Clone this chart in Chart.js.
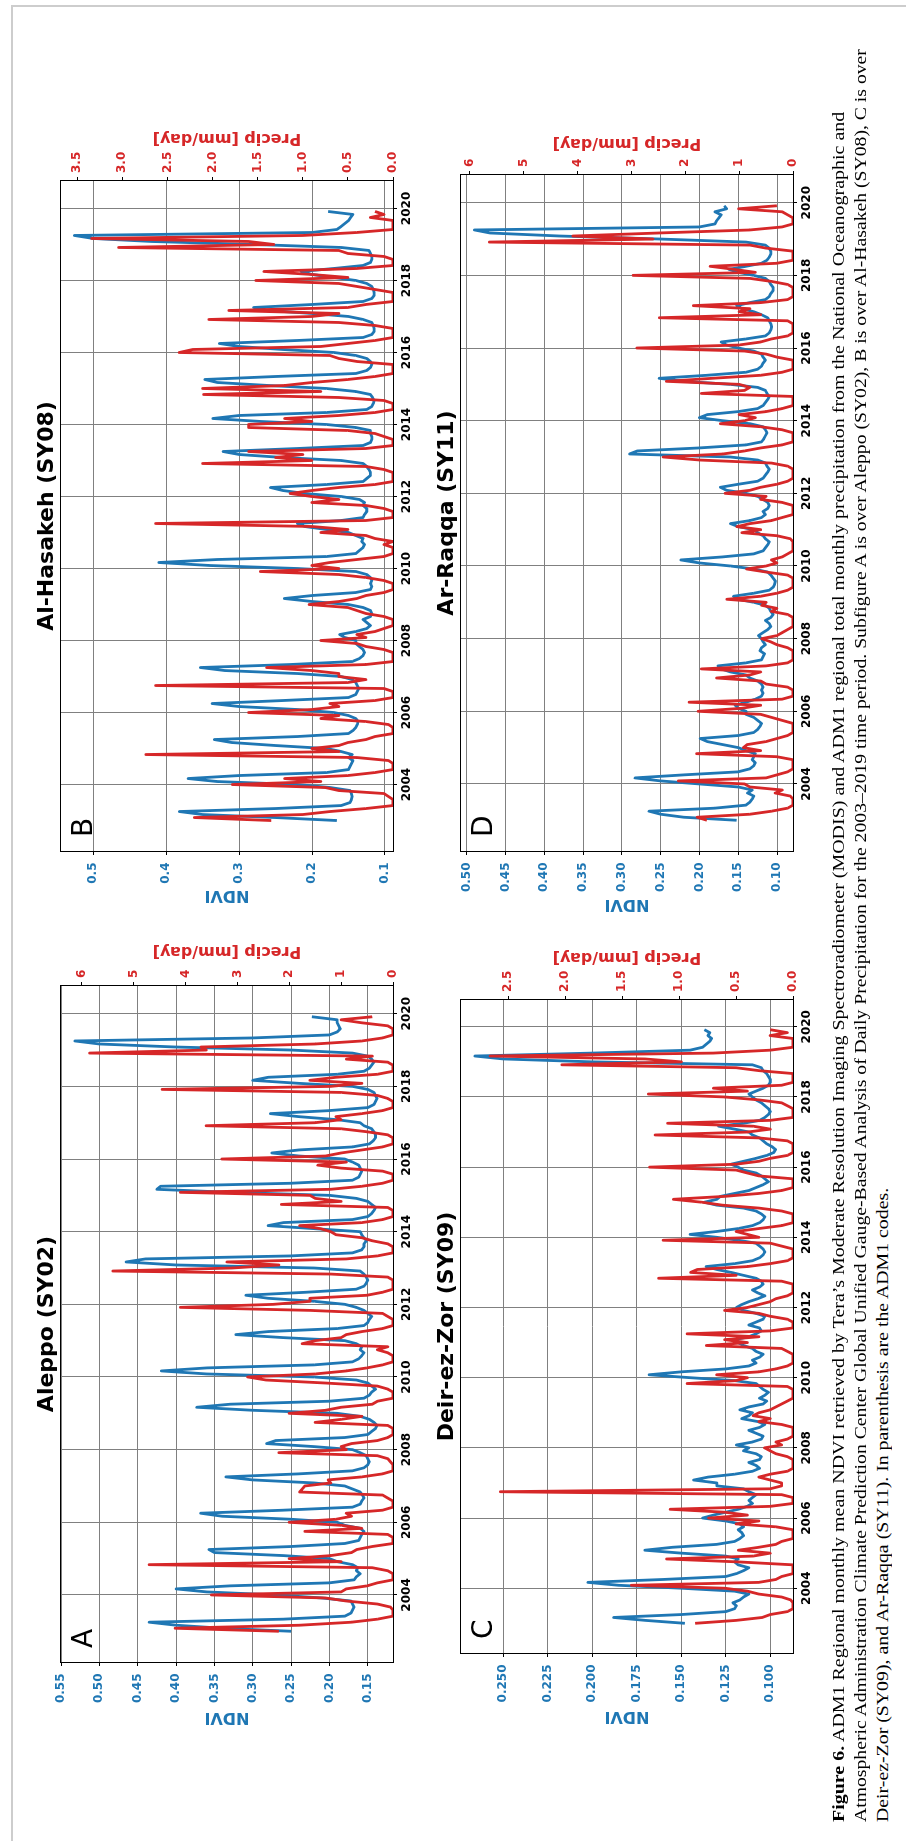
<!DOCTYPE html>
<html><head><meta charset="utf-8">
<script src="https://cdn.jsdelivr.net/npm/chart.js@4.4.1/dist/chart.umd.min.js"></script>
<style>
html,body{margin:0;padding:0;background:#fff;width:906px;height:1841px;overflow:hidden}
#page{position:absolute;left:0;top:0;width:1841px;height:906px;transform-origin:0 0;transform:translate(0,1841px) rotate(-90deg);}
#page canvas{position:absolute}
.cap{position:absolute;left:19px;font-family:"Liberation Serif","Times New Roman",serif;font-size:16.6px;line-height:20px;white-space:nowrap;transform-origin:0 0;color:#000}
.bl{position:absolute;background:#cdcdcd}
</style></head>
<body>
<div class="bl" style="left:12px;top:5px;width:894px;height:2px"></div>
<div class="bl" style="left:11px;top:5px;width:2px;height:1836px"></div>
<div id="page">
<canvas id="cA"></canvas><canvas id="cB"></canvas><canvas id="cC"></canvas><canvas id="cD"></canvas>
<div class="cap" id="cap1" style="top:828.7px"><b>Figure 6.</b> ADM1 Regional monthly mean NDVI retrieved by Tera’s Moderate Resolution Imaging Spectroradiometer (MODIS) and ADM1 regional total monthly precipitation from the National Oceanographic and</div>
<div class="cap" id="cap2" style="top:851.1px">Atmospheric Administration Climate Prediction Center Global Unified Gauge-Based Analysis of Daily Precipitation for the 2003–2019 time period. Subfigure A is over Aleppo (SY02), B is over Al-Hasakeh (SY08), C is over</div>
<div class="cap" id="cap3" style="top:873.4px">Deir-ez-Zor (SY09), and Ar-Raqqa (SY11). In parenthesis are the ADM1 codes.</div>
</div>
<script>
// ---------------- DATA ----------------
const years = [2003,2004,2005,2006,2007,2008,2009,2010,2011,2012,2013,2014,2015,2016,2017,2018,2019];
const yearTicks = [2004,2006,2008,2010,2012,2014,2016,2018,2020];

// Aleppo (SY02) — monthly, Jan..Dec per row
const aleppoNdvi = [
0.250,0.340,0.400,0.435,0.260,0.180,0.172,0.170,0.168,0.170,0.172,0.210,
0.270,0.360,0.400,0.330,0.200,0.168,0.165,0.160,0.165,0.163,0.170,0.190,
0.200,0.260,0.350,0.357,0.250,0.180,0.162,0.160,0.158,0.155,0.160,0.180,
0.190,0.250,0.340,0.368,0.260,0.170,0.160,0.158,0.155,0.157,0.160,0.170,
0.180,0.220,0.300,0.335,0.240,0.170,0.155,0.150,0.148,0.150,0.152,0.160,
0.170,0.220,0.282,0.270,0.180,0.150,0.145,0.140,0.138,0.142,0.148,0.160,
0.190,0.300,0.373,0.330,0.200,0.155,0.148,0.145,0.140,0.145,0.150,0.165,
0.220,0.360,0.419,0.360,0.220,0.170,0.162,0.158,0.155,0.160,0.158,0.165,
0.180,0.260,0.322,0.280,0.190,0.155,0.150,0.148,0.145,0.150,0.155,0.165,
0.180,0.220,0.280,0.309,0.230,0.165,0.155,0.152,0.150,0.152,0.155,0.160,
0.220,0.400,0.465,0.440,0.250,0.170,0.158,0.155,0.155,0.152,0.155,0.158,
0.160,0.220,0.280,0.260,0.170,0.150,0.145,0.142,0.140,0.145,0.150,0.165,
0.200,0.330,0.425,0.420,0.250,0.170,0.162,0.160,0.158,0.160,0.162,0.170,
0.180,0.240,0.275,0.240,0.170,0.148,0.143,0.140,0.140,0.142,0.145,0.155,
0.160,0.190,0.240,0.277,0.200,0.150,0.142,0.140,0.138,0.140,0.142,0.150,
0.170,0.240,0.300,0.280,0.190,0.155,0.148,0.145,0.142,0.145,0.150,0.170,
0.250,0.400,0.500,0.532,0.300,0.200,0.190,0.186,0.188,0.190,0.190,0.223];
const aleppoPrecip = [
2.2,4.2,1.8,0.8,0.3,0.0,0.0,0.0,0.05,0.3,0.9,1.3,
3.5,1.0,0.9,0.5,0.3,0.0,0.0,0.0,0.1,0.4,4.7,1.0,
2.0,1.2,0.8,0.7,0.4,0.0,0.0,0.0,0.1,1.7,0.6,1.0,
2.0,1.1,0.8,0.9,0.2,0.0,0.0,0.0,0.1,0.2,1.8,1.75,
1.7,1.2,1.25,0.6,0.2,0.0,0.0,0.0,0.05,0.1,0.3,2.2,
0.9,1.0,0.8,0.3,0.1,0.0,0.0,0.0,0.1,1.5,1.0,0.6,
2.0,1.3,1.0,0.4,0.3,0.0,0.0,0.0,0.1,0.3,1.3,2.45,
2.8,1.5,0.9,0.5,0.2,0.0,0.0,0.0,0.1,0.3,0.1,1.75,
1.5,1.0,0.9,0.6,0.2,0.0,0.0,0.0,0.1,0.2,1.6,4.1,
2.3,1.6,1.6,0.5,0.2,0.0,0.0,0.0,0.0,0.1,1.2,5.4,
3.1,2.2,3.2,0.9,0.3,0.0,0.0,0.0,0.1,0.4,0.6,1.1,
1.2,1.4,1.8,0.6,0.2,0.0,0.0,0.0,0.1,2.15,1.0,1.5,
1.6,4.1,1.2,0.6,0.2,0.0,0.0,0.0,0.2,1.0,1.45,0.9,
3.3,1.3,1.0,0.6,0.2,0.0,0.0,0.0,0.1,0.5,1.0,3.6,
1.5,1.0,1.1,0.6,0.2,0.0,0.0,0.0,0.1,0.3,1.0,4.45,
1.2,0.6,1.6,1.1,0.3,0.0,0.0,0.0,0.1,0.9,0.4,5.85,
3.6,3.7,1.5,0.6,0.2,0.0,0.0,0.0,0.1,0.6,1.0,0.4];
const aleppoNdviTicks = [0.15,0.20,0.25,0.30,0.35,0.40,0.45,0.50,0.55];
const aleppoPrecipTicks = [0,1,2,3,4,5,6];

// Al-Hasakeh (SY08)
const hasakehNdvi = [
0.166,0.250,0.350,0.382,0.250,0.160,0.148,0.146,0.145,0.146,0.148,0.175,
0.220,0.330,0.370,0.300,0.180,0.150,0.148,0.146,0.144,0.150,0.145,0.160,
0.180,0.250,0.310,0.334,0.220,0.150,0.144,0.140,0.138,0.137,0.140,0.150,
0.170,0.220,0.300,0.337,0.240,0.150,0.140,0.138,0.136,0.138,0.140,0.145,
0.160,0.220,0.320,0.353,0.230,0.145,0.135,0.130,0.128,0.130,0.135,0.140,
0.140,0.155,0.162,0.140,0.125,0.120,0.125,0.130,0.120,0.118,0.120,0.130,
0.150,0.200,0.238,0.200,0.140,0.120,0.118,0.120,0.118,0.120,0.125,0.140,
0.220,0.340,0.410,0.330,0.180,0.140,0.135,0.130,0.128,0.132,0.130,0.140,
0.150,0.180,0.210,0.220,0.160,0.130,0.128,0.125,0.125,0.130,0.128,0.135,
0.160,0.210,0.240,0.257,0.180,0.130,0.125,0.120,0.120,0.122,0.125,0.130,
0.160,0.240,0.300,0.322,0.220,0.130,0.120,0.118,0.118,0.120,0.120,0.140,
0.180,0.270,0.336,0.300,0.180,0.125,0.118,0.116,0.115,0.117,0.120,0.140,
0.180,0.260,0.330,0.347,0.250,0.140,0.125,0.120,0.118,0.120,0.125,0.140,
0.170,0.240,0.300,0.327,0.220,0.130,0.118,0.115,0.115,0.116,0.118,0.130,
0.150,0.200,0.260,0.280,0.200,0.130,0.118,0.115,0.115,0.116,0.118,0.125,
0.140,0.170,0.200,0.215,0.170,0.130,0.120,0.118,0.118,0.120,0.122,0.160,
0.280,0.420,0.500,0.526,0.200,0.166,0.160,0.155,0.150,0.147,0.144,0.178];
const hasakehPrecip = [
1.35,2.2,1.0,0.7,0.3,0.0,0.0,0.0,0.05,0.1,0.6,0.75,
1.78,0.8,1.2,0.5,0.2,0.0,0.0,0.0,0.05,0.4,2.74,0.6,
0.9,0.6,0.5,0.3,0.2,0.0,0.0,0.0,0.05,0.3,0.8,0.6,
1.6,0.9,0.6,0.7,0.2,0.0,0.0,0.0,0.1,2.63,0.5,0.3,
0.6,0.6,0.9,1.4,0.3,0.0,0.0,0.0,0.0,0.1,0.3,0.4,
0.8,0.3,0.4,0.2,0.1,0.0,0.0,0.0,0.1,0.3,0.4,0.5,
0.93,0.6,0.4,0.3,0.1,0.0,0.0,0.0,0.1,0.3,0.6,1.47,
0.6,0.9,0.7,0.4,0.1,0.0,0.0,0.0,0.1,0.0,0.2,0.3,
0.8,0.5,0.9,2.63,0.3,0.0,0.0,0.0,0.1,0.3,0.9,0.6,
0.9,1.14,0.9,0.6,0.2,0.0,0.0,0.0,0.0,0.1,0.3,2.11,
0.9,1.3,1.0,1.6,0.3,0.0,0.0,0.0,0.1,0.2,0.5,1.6,
1.6,0.9,1.2,0.6,0.2,0.0,0.0,0.0,0.1,0.6,2.1,0.8,
2.11,1.2,0.9,0.5,0.2,0.0,0.0,0.0,0.0,0.4,0.6,0.7,
2.37,2.22,0.8,0.5,0.2,0.0,0.0,0.0,0.0,0.2,0.6,2.04,
0.9,0.6,1.82,0.5,0.3,0.0,0.0,0.0,0.0,0.2,0.4,0.6,
1.52,0.5,0.9,1.43,0.4,0.0,0.0,0.0,0.1,0.5,0.6,3.04,
1.32,1.6,3.34,1.0,0.4,0.0,0.0,0.0,0.0,0.25,0.1,0.2];
const hasakehNdviTicks = [0.1,0.2,0.3,0.4,0.5];
const hasakehPrecipTicks = [0.0,0.5,1.0,1.5,2.0,2.5,3.0,3.5];

// Deir-ez-Zor (SY09)
const deirNdvi = [
0.148,0.170,0.188,0.150,0.125,0.120,0.119,0.121,0.117,0.115,0.112,0.120,
0.150,0.185,0.2025,0.160,0.125,0.119,0.115,0.112,0.118,0.120,0.118,0.125,
0.150,0.1705,0.155,0.130,0.120,0.117,0.115,0.116,0.118,0.115,0.117,0.125,
0.138,0.132,0.125,0.118,0.113,0.110,0.112,0.110,0.108,0.112,0.115,0.130,
0.130,0.143,0.135,0.120,0.110,0.106,0.108,0.112,0.106,0.105,0.108,0.115,
0.112,0.119,0.110,0.105,0.104,0.108,0.112,0.106,0.103,0.107,0.116,0.112,
0.110,0.117,0.112,0.104,0.102,0.106,0.103,0.101,0.104,0.106,0.108,0.120,
0.145,0.168,0.150,0.125,0.112,0.108,0.110,0.106,0.104,0.108,0.110,0.115,
0.118,0.120,0.112,0.108,0.105,0.106,0.112,0.108,0.104,0.103,0.108,0.115,
0.119,0.116,0.112,0.107,0.103,0.107,0.110,0.106,0.104,0.105,0.108,0.115,
0.122,0.130,0.136,0.120,0.110,0.106,0.104,0.103,0.104,0.106,0.108,0.118,
0.130,0.145,0.130,0.118,0.110,0.106,0.104,0.103,0.105,0.108,0.115,0.130,
0.137,0.130,0.128,0.120,0.112,0.108,0.104,0.101,0.103,0.105,0.108,0.115,
0.118,0.122,0.115,0.108,0.102,0.098,0.097,0.099,0.102,0.104,0.106,0.110,
0.112,0.120,0.129,0.115,0.106,0.103,0.101,0.100,0.101,0.103,0.105,0.108,
0.110,0.112,0.108,0.104,0.101,0.100,0.100,0.101,0.102,0.104,0.105,0.110,
0.200,0.250,0.266,0.200,0.145,0.138,0.136,0.134,0.133,0.135,0.134,0.137];
const deirPrecip = [
0.86,0.5,0.27,0.2,0.05,0.0,0.0,0.0,0.02,0.1,0.3,0.4,
0.6,1.42,0.3,0.15,0.1,0.0,0.0,0.0,0.0,0.48,1.11,0.35,
0.2,0.48,0.3,0.15,0.1,0.0,0.0,0.0,0.0,0.15,0.5,0.3,
0.74,0.4,0.6,1.08,0.2,0.0,0.0,0.0,0.1,2.57,0.2,0.1,
0.1,0.2,0.3,0.2,0.05,0.0,0.0,0.0,0.0,0.05,0.15,0.2,
0.25,0.1,0.15,0.05,0.0,0.0,0.0,0.0,0.1,0.3,0.2,0.35,
0.3,0.2,0.15,0.1,0.05,0.0,0.0,0.0,0.0,0.05,0.93,0.5,
0.4,0.67,0.3,0.15,0.05,0.0,0.0,0.0,0.0,0.05,0.1,0.76,
0.4,0.6,0.3,0.93,0.2,0.0,0.0,0.0,0.05,0.2,0.3,0.6,
0.4,0.3,0.2,0.15,0.05,0.0,0.0,0.0,0.0,0.1,1.18,0.5,
0.9,0.84,0.4,0.2,0.05,0.0,0.0,0.0,0.0,0.1,0.2,1.14,
0.3,0.4,0.5,0.3,0.1,0.0,0.0,0.0,0.0,0.1,0.3,0.62,
0.8,1.05,0.6,0.3,0.1,0.0,0.0,0.0,0.0,0.3,0.4,0.5,
1.26,0.5,0.3,0.2,0.05,0.0,0.0,0.0,0.0,0.05,0.3,1.21,
0.4,0.2,0.35,1.1,0.2,0.0,0.0,0.0,0.0,0.05,0.1,0.3,
0.6,1.27,0.4,0.7,0.1,0.0,0.0,0.0,0.0,0.3,0.5,2.03,
0.98,1.3,2.66,0.7,0.2,0.0,0.0,0.0,0.0,0.2,0.05,0.2];
const deirNdviTicks = [0.100,0.125,0.150,0.175,0.200,0.225,0.250];
const deirPrecipTicks = [0.0,0.5,1.0,1.5,2.0,2.5];

// Ar-Raqqa (SY11)
const raqqaNdvi = [
0.152,0.220,0.250,0.265,0.180,0.140,0.135,0.132,0.130,0.138,0.132,0.150,
0.200,0.250,0.283,0.220,0.150,0.135,0.130,0.128,0.132,0.130,0.128,0.140,
0.150,0.170,0.190,0.199,0.150,0.130,0.125,0.122,0.120,0.125,0.130,0.140,
0.140,0.150,0.154,0.140,0.128,0.120,0.118,0.120,0.118,0.120,0.125,0.135,
0.140,0.160,0.172,0.176,0.140,0.120,0.118,0.116,0.122,0.120,0.115,0.118,
0.120,0.124,0.118,0.112,0.108,0.110,0.115,0.108,0.105,0.108,0.110,0.115,
0.130,0.150,0.156,0.130,0.110,0.105,0.103,0.102,0.105,0.108,0.112,0.130,
0.160,0.200,0.224,0.170,0.130,0.118,0.115,0.112,0.110,0.115,0.118,0.125,
0.130,0.150,0.160,0.135,0.120,0.115,0.118,0.112,0.110,0.112,0.118,0.125,
0.140,0.165,0.173,0.150,0.125,0.118,0.115,0.112,0.110,0.113,0.115,0.125,
0.160,0.290,0.280,0.200,0.140,0.120,0.117,0.115,0.113,0.115,0.118,0.135,
0.170,0.200,0.190,0.150,0.125,0.118,0.115,0.112,0.110,0.113,0.115,0.125,
0.160,0.220,0.252,0.190,0.140,0.125,0.120,0.118,0.115,0.118,0.120,0.130,
0.150,0.165,0.172,0.140,0.115,0.110,0.108,0.107,0.108,0.110,0.112,0.120,
0.130,0.145,0.152,0.135,0.115,0.110,0.108,0.105,0.105,0.108,0.110,0.115,
0.130,0.150,0.162,0.140,0.120,0.113,0.110,0.108,0.108,0.110,0.115,0.140,
0.250,0.380,0.470,0.490,0.200,0.180,0.178,0.175,0.172,0.180,0.165,0.168];
const raqqaPrecip = [
1.6,1.78,0.8,0.4,0.1,0.0,0.0,0.0,0.05,0.33,0.2,0.8,
0.9,2.13,0.5,0.3,0.1,0.0,0.0,0.0,0.0,0.3,1.79,0.6,
0.92,0.85,0.5,0.3,0.1,0.0,0.0,0.0,0.0,0.2,0.4,0.6,
1.76,0.95,0.6,1.93,0.2,0.0,0.0,0.0,0.1,0.5,0.6,1.42,
0.8,0.6,1.7,0.5,0.1,0.0,0.0,0.0,0.0,0.1,0.3,0.42,
0.58,0.3,0.2,0.1,0.0,0.0,0.0,0.0,0.1,0.4,0.3,0.58,
0.5,1.23,0.6,0.3,0.1,0.0,0.0,0.0,0.0,0.1,0.5,0.86,
0.5,0.3,0.4,0.2,0.1,0.0,0.0,0.0,0.0,0.05,0.3,0.95,
0.6,1.04,0.8,0.4,0.2,0.0,0.0,0.0,0.0,0.2,0.6,0.5,
1.26,0.8,0.6,0.3,0.1,0.0,0.0,0.0,0.0,0.1,0.4,1.73,
2.41,1.3,0.9,0.6,0.2,0.0,0.0,0.0,0.0,0.2,0.6,1.35,
0.9,0.7,1.0,0.5,0.2,0.0,0.0,0.0,0.0,1.7,0.9,0.8,
1.0,2.35,1.5,0.6,0.2,0.0,0.0,0.0,0.0,0.3,0.5,0.9,
2.9,1.0,0.6,0.4,0.1,0.0,0.0,0.0,0.0,0.1,2.48,0.6,
1.0,0.8,1.85,0.6,0.1,0.0,0.0,0.0,0.0,0.1,0.4,0.8,
2.97,0.7,1.1,1.54,0.3,0.0,0.0,0.0,0.0,0.5,0.8,5.64,
2.6,4.09,2.5,0.8,0.2,0.0,0.0,0.0,0.1,0.2,1.01,0.3];
const raqqaNdviTicks = [0.10,0.15,0.20,0.25,0.30,0.35,0.40,0.45,0.50];
const raqqaPrecipTicks = [0,1,2,3,4,5,6];

// ---------------- DRAWING ----------------
const BLUE = '#1f77b4', RED = '#d62728', GRID = '#808080';
const TICK_FONT = {family:'DejaVu Sans', size:12, weight:'bold'};
const LW = 80, RW = 60, TP = 60, BH = 40;

const monthX = [];
years.forEach(y => { for (let m = 0; m < 12; m++) monthX.push(y + m / 12); });
const toPts = vals => vals.map((v, i) => ({x: monthX[i], y: v}));

const panels = [
 {id:'cA', title:'Aleppo (SY02)', letter:'A', ndvi:aleppoNdvi, precip:aleppoPrecip,
  nT:aleppoNdviTicks, nDec:2, pT:aleppoPrecipTicks, pDec:0, nMin:0.1172, nMax:0.5500, pMax:6.40,
  area:[179,61,676,332], nOff:50.6, pOff:38.5},
 {id:'cB', title:'Al-Hasakeh (SY08)', letter:'B', ndvi:hasakehNdvi, precip:hasakehPrecip,
  nT:hasakehNdviTicks, nDec:1, pT:hasakehPrecipTicks, pDec:1, nMin:0.0890, nMax:0.5443, pMax:3.68,
  area:[990,61,670,332], nOff:39.6, pOff:47},
 {id:'cC', title:'Deir-ez-Zor (SY09)', letter:'C', ndvi:deirNdvi, precip:deirPrecip,
  nT:deirNdviTicks, nDec:3, pT:deirPrecipTicks, pDec:1, nMin:0.0872, nMax:0.2738, pMax:2.916,
  area:[188,461,653,332], nOff:59.5, pOff:47},
 {id:'cD', title:'Ar-Raqqa (SY11)', letter:'D', ndvi:raqqaNdvi, precip:raqqaPrecip,
  nT:raqqaNdviTicks, nDec:2, pT:raqqaPrecipTicks, pDec:0, nMin:0.0794, nMax:0.5073, pMax:6.167,
  area:[990,461,676,332], nOff:48.6, pOff:35.5}
];

const decor = {
  id: 'decor',
  afterDraw(chart, args, o) {
    const {ctx, chartArea: a} = chart;
    ctx.save();
    ctx.strokeStyle = '#000'; ctx.lineWidth = 1;
    ctx.strokeRect(a.left - 0.5, a.top - 0.5, a.right - a.left + 1, a.bottom - a.top + 1);
    const cx = (a.left + a.right) / 2, cy = (a.top + a.bottom) / 2;
    ctx.fillStyle = '#000';
    ctx.textBaseline = 'alphabetic';
    ctx.textAlign = 'center';
    ctx.font = 'bold 22px "DejaVu Sans"';
    ctx.fillText(o.title, cx, a.top - 8.3);
    ctx.textAlign = 'left';
    ctx.font = '28px "DejaVu Sans"';
    ctx.fillText(o.letter, a.left + 14, a.top + 31);
    ctx.font = 'bold 16px "DejaVu Sans"';
    ctx.textAlign = 'center';
    ctx.save();
    ctx.translate(a.left - o.nOff, cy); ctx.rotate(-Math.PI / 2);
    ctx.fillStyle = BLUE; ctx.fillText('NDVI', 0, 0);
    ctx.restore();
    ctx.save();
    ctx.translate(a.right + o.pOff, cy); ctx.rotate(-Math.PI / 2);
    ctx.fillStyle = RED; ctx.fillText('Precip [mm/day]', 0, 0);
    ctx.restore();
    ctx.restore();
  }
};

panels.forEach(p => {
  const cv = document.getElementById(p.id);
  const W = p.area[2] + LW + RW, H = p.area[3] + TP + BH;
  cv.width = W; cv.height = H;
  cv.style.width = W + 'px'; cv.style.height = H + 'px';
  cv.style.left = (p.area[0] - LW) + 'px'; cv.style.top = (p.area[1] - TP) + 'px';
  new Chart(cv, {
    type: 'line',
    data: {
      datasets: [
        {label:'Precip', data: toPts(p.precip), yAxisID:'y2', borderColor: RED, borderWidth: 2.8,
         pointRadius: 0, tension: 0, fill: false, order: 0, borderJoinStyle: 'round'},
        {label:'NDVI', data: toPts(p.ndvi), yAxisID:'y', borderColor: BLUE, borderWidth: 2.8,
         pointRadius: 0, tension: 0, fill: false, order: 1, borderJoinStyle: 'round'}
      ]
    },
    options: {
      responsive: false, animation: false, devicePixelRatio: 1,
      layout: {padding: {top: TP, left: 0, right: 0, bottom: 0}},
      plugins: {legend: {display: false}, tooltip: {enabled: false}, title: {display: false},
        decor: {title: p.title, letter: p.letter, nOff: p.nOff, pOff: p.pOff}},
      scales: {
        x: {type: 'linear', position: 'bottom', min: 2002.154, max: 2020.763,
          afterBuildTicks: s => { s.ticks = yearTicks.map(v => ({value: v})); },
          afterFit: s => { s.height = BH; },
          ticks: {autoSkip: false, maxRotation: 0, color: '#000', font: TICK_FONT, padding: 3,
            callback: v => String(v)},
          grid: {color: GRID, lineWidth: 1, tickColor: '#000', tickLength: 4, tickWidth: 1},
          border: {display: false}},
        y: {type: 'linear', position: 'left', min: p.nMin, max: p.nMax,
          afterBuildTicks: s => { s.ticks = p.nT.map(v => ({value: v})); },
          afterFit: s => { s.width = LW; },
          ticks: {autoSkip: false, color: BLUE, font: TICK_FONT, padding: 7.5,
            callback: v => Number(v).toFixed(p.nDec)},
          grid: {color: GRID, lineWidth: 1, tickColor: '#000', tickLength: 4, tickWidth: 1},
          border: {display: false}},
        y2: {type: 'linear', position: 'right', min: 0, max: p.pMax,
          afterBuildTicks: s => { s.ticks = p.pT.map(v => ({value: v})); },
          afterFit: s => { s.width = RW; },
          ticks: {autoSkip: false, color: RED, font: TICK_FONT, padding: 4,
            callback: v => Number(v).toFixed(p.pDec)},
          grid: {drawOnChartArea: false, tickColor: '#000', tickLength: 4, tickWidth: 1},
          border: {display: false}}
      }
    },
    plugins: [decor]
  });
});

// caption lines fitted to the measured widths of the reference
function fitCaption() {
  const targets = {cap1: 1710, cap2: 1773.4};
  const ks = [];
  Object.keys(targets).forEach(id => {
    const el = document.getElementById(id);
    const k = targets[id] / el.offsetWidth;
    ks.push(k);
    el.style.transform = 'scaleX(' + k + ')';
  });
  const k3 = (ks[0] + ks[1]) / 2;
  document.getElementById('cap3').style.transform = 'scaleX(' + k3 + ')';
}
if (document.fonts && document.fonts.ready) document.fonts.ready.then(fitCaption); else fitCaption();
fitCaption();
</script>
</body></html>
